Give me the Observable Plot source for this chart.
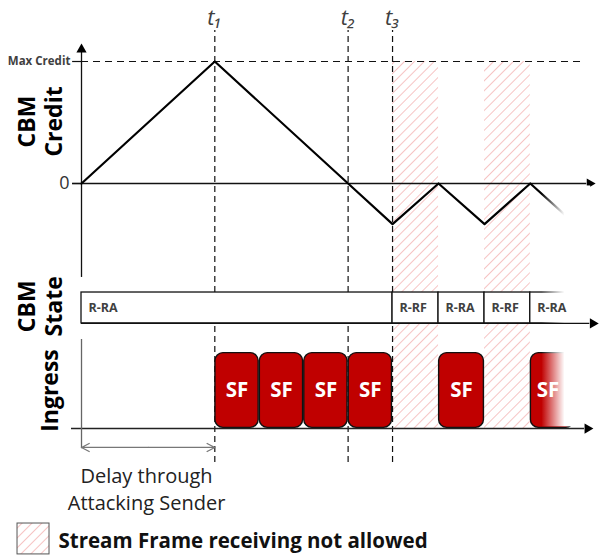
<!DOCTYPE html>
<html><head><meta charset="utf-8">
<script src="https://cdn.jsdelivr.net/npm/d3@7"></script>
<script src="https://cdn.jsdelivr.net/npm/@observablehq/plot@0.6"></script>
<style>body{margin:0;background:#fff} svg{display:block}</style>
</head><body><div id="chart"></div>
<script>
// ---- data (time units: one stream frame = 1; credit units) ----
const maxCredit = 3;
const creditTimes  = [0, 3, 6, 7, 8.035, 9.07, 10.1, 10.9];
const creditValues = [0, 3, 0, -1, 0, -1, 0, -0.79];
const eventLabels = ["t₁", "t₂", "t₃"];
const eventTimes  = [3, 6, 7];
const stateLabels = ["R-RA", "R-RF", "R-RA", "R-RF", "R-RA"];
const stateStarts = [0, 7, 8.035, 9.07, 10.1];
const stateEnds   = [7, 8.035, 9.07, 10.1, 11.4];
const frameStarts = [3, 4, 5, 6, 8.035, 10.1];
const frameEnds   = [4, 5, 6, 7, 9.07, 11.1];
const frameLabel = "SF";
const blockedStarts = [7, 9.07];
const blockedEnds   = [8.035, 10.1];
const delayStart = 0, delayEnd = 3;
const yTickLabels = ["Max Credit", "0"];
const yTickValues = [maxCredit, 0];
const laneTitles = ["CBM\nCredit", "CBM\nState", "Ingress"];
const delayText = "Delay through\nAttacking Sender";
const legendText = "Stream Frame receiving not allowed";

// ---- layout (in scale units) ----
const L = {
  xMin: -1.823, xMax: 11.68, yMin: -9.171, yMax: 4.5,
  creditTop: 3.44, creditBottom: -2.31, axisStart: -0.2, zeroEnd: 11.57, maxEnd: 11.34,
  stateTop: -2.68, stateBottom: -3.44, stateEnd: 11.64,
  ingTop: -4.155, ingBottom: -6.024, ingEnd: 11.52, ingStart: -0.225,
  ingAxisTop: -3.836, ingAxisBottom: -6.52, delayY: -6.49,
  guideTop: 3.76, guideBottom: -6.86, eventLabelY: 4.08,
  fadeFrom: 10.36, fadeTo: 10.88, fadeEnd: 11.46,
  titleX: [-0.94, -0.94, -0.72], titleY: [1.525, -3.02, -5.09],
  delayX: 1.463, delayTextY: -6.9,
  legX1: -1.44, legX2: -0.72, legY1: -9.12, legY2: -8.36, legTextX: -0.518, legTextY: -8.79
};

const font = "'Open Sans', 'Noto Sans', sans-serif";
const credit = creditTimes.map((t, i) => ({t, c: creditValues[i]}));
const states = stateLabels.map((s, i) => ({s, x1: stateStarts[i], x2: stateEnds[i]}));
const frames = frameStarts.map((x1, i) => ({x1, x2: frameEnds[i], m: (x1 + Math.min(frameEnds[i], 10.9)) / 2}));
const blocked = blockedStarts.map((x1, i) => ({x1, x2: blockedEnds[i]}));
const events = eventTimes.map((t, i) => ({t, label: eventLabels[i]}));

const defs = (index, scales) => {
  const svg = d3.create("svg:defs");
  const p = svg.append("pattern").attr("id", "hatch").attr("patternUnits", "userSpaceOnUse")
    .attr("width", 7).attr("height", 7).attr("patternTransform", "rotate(45)");
  p.append("line").attr("x1", 0).attr("y1", -1).attr("x2", 0).attr("y2", 8)
    .attr("stroke", "#f09c9c").attr("stroke-width", 1.2);
  const g = svg.append("linearGradient").attr("id", "fade").attr("gradientUnits", "userSpaceOnUse")
    .attr("x1", scales.x(L.fadeFrom)).attr("x2", scales.x(L.fadeTo)).attr("y1", 0).attr("y2", 0);
  g.append("stop").attr("offset", 0).attr("stop-color", "#fff").attr("stop-opacity", 0);
  g.append("stop").attr("offset", 1).attr("stop-color", "#fff").attr("stop-opacity", 1);
  return svg.node();
};

const arrowHead = (x, y, rotate, d) => Plot.dot([{x, y}], {x: "x", y: "y", symbol: "triangle", r: 3.8,
  fill: "#000", stroke: null, rotate, dx: rotate === 90 ? -d : 0, dy: rotate === 0 ? d : 0});

const chart = Plot.plot({
  width: 600, height: 556,
  marginTop: 0, marginBottom: 0, marginLeft: 0, marginRight: 0,
  x: {domain: [L.xMin, L.xMax], range: [0, 600], axis: null},
  y: {domain: [L.yMin, L.yMax], range: [556, 0], axis: null},
  style: {fontFamily: font, background: "#fff"},
  marks: [
    defs,
    Plot.rect(blocked, {x1: "x1", x2: "x2", y1: maxCredit, y2: L.ingBottom, fill: "url(#hatch)"}),
    Plot.ruleX(events, {x: "t", y1: L.guideBottom, y2: L.guideTop, stroke: "#111", strokeWidth: 1.2, strokeDasharray: "6,4"}),
    Plot.ruleY([maxCredit], {x1: 0, x2: L.maxEnd, stroke: "#111", strokeWidth: 1.2, strokeDasharray: "7,5"}),
    Plot.ruleY(yTickValues, {x1: L.axisStart, x2: 0, stroke: "#111", strokeWidth: 1.2}),
    Plot.ruleY([0], {x1: L.axisStart, x2: L.zeroEnd - 0.2, stroke: "#111", strokeWidth: 1.3}),
    arrowHead(L.zeroEnd, 0, 90, 5.9),
    Plot.ruleX([0], {y1: L.creditBottom, y2: L.creditTop - 0.2, stroke: "#111", strokeWidth: 1.3}),
    arrowHead(0, L.creditTop, 0, 5.9),
    Plot.rect(states, {x1: "x1", x2: "x2", y1: L.stateBottom, y2: L.stateTop, fill: "#fff", stroke: "#111", strokeWidth: 1.3}),
    Plot.rect(frames, {x1: "x1", x2: "x2", y1: L.ingBottom, y2: L.ingTop, inset: 0.6, rx: 8, fill: "#c00000", stroke: "#111", strokeWidth: 1.4}),
    Plot.text(frames, {x: "m", y: (L.ingTop + L.ingBottom) / 2, text: () => frameLabel, fill: "#fff", fontSize: 20.5, fontWeight: "bold"}),
    Plot.line(credit, {x: "t", y: "c", stroke: "#000", strokeWidth: 2.2}),
    Plot.rect([0], {x1: L.fadeFrom, x2: L.fadeEnd, y1: -0.06, y2: L.ingBottom + 0.04, fill: "url(#fade)"}),
    Plot.text(states, {x: "x1", y: (L.stateTop + L.stateBottom) / 2, text: "s", dx: 7, textAnchor: "start", fontSize: 12.5, fontWeight: "bold", fill: "#404040"}),
    Plot.ruleY([L.stateBottom], {x1: 0, x2: L.stateEnd - 0.2, stroke: "#111", strokeWidth: 1.3}),
    arrowHead(L.stateEnd, L.stateBottom, 90, 5.9),
    Plot.ruleY([L.ingBottom], {x1: L.ingStart, x2: L.ingEnd - 0.2, stroke: "#222", strokeWidth: 1.3}),
    arrowHead(L.ingEnd, L.ingBottom, 90, 5.9),
    Plot.ruleX([0], {y1: L.ingAxisBottom, y2: L.ingAxisTop, stroke: "#666", strokeWidth: 1.3}),
    Plot.arrow([{a: (delayStart + delayEnd) / 2, b: delayStart}, {a: (delayStart + delayEnd) / 2, b: delayEnd}],
      {x1: "a", x2: "b", y1: L.delayY, y2: L.delayY, stroke: "#777", strokeWidth: 1.3, headLength: 10, headAngle: 55}),
    Plot.text(events, {x: "t", y: L.eventLabelY, text: "label", fontSize: 22, fontStyle: "italic", fill: "#404040"}),
    Plot.text(yTickLabels.slice(0, 1), {x: -0.25, y: yTickValues[0], text: d => d, textAnchor: "end", fontSize: 11.5, fontWeight: "bold", fill: "#404040"}),
    Plot.text(yTickLabels.slice(1), {x: -0.27, y: yTickValues[1], text: d => d, textAnchor: "end", fontSize: 18, fill: "#333"}),
    Plot.text(laneTitles, {x: (d, i) => L.titleX[i], y: (d, i) => L.titleY[i], text: d => d, rotate: -90, fontSize: 23, fontWeight: "bold", lineHeight: 1.18, fill: "#000"}),
    Plot.text([delayText], {x: L.delayX, y: L.delayTextY, text: d => d, lineAnchor: "top", fontSize: 20, lineHeight: 1.35, fill: "#222"}),
    Plot.rect([0], {x1: L.legX1, x2: L.legX2, y1: L.legY1, y2: L.legY2, fill: "url(#hatch)", stroke: "#555", strokeWidth: 1}),
    Plot.text([legendText], {x: L.legTextX, y: L.legTextY, text: d => d, textAnchor: "start", fontSize: 20.5, fontWeight: "bold", fill: "#111"})
  ]
});
document.getElementById("chart").append(chart);
</script>
</body></html>
